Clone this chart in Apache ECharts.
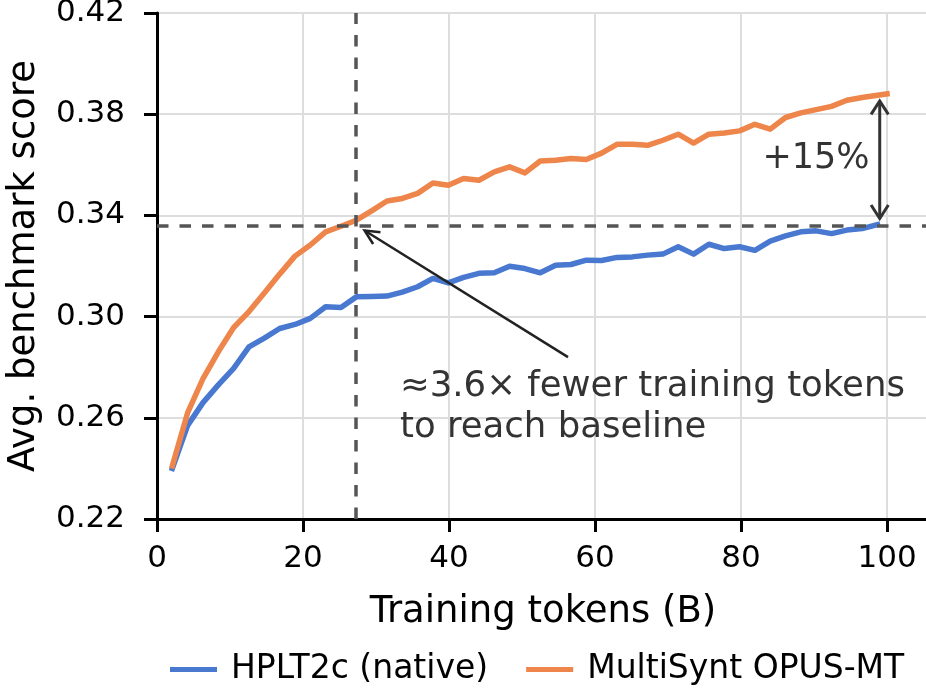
<!DOCTYPE html>
<html>
<head>
<meta charset="utf-8">
<title>Training tokens vs benchmark score</title>
<script src="https://cdn.jsdelivr.net/npm/echarts@6.0.0/dist/echarts.min.js"></script>
<style>
    html, body { margin: 0; padding: 0; background: #fff; }
    #chart { width: 926px; height: 693px; }
</style>
</head>
<body>
<div id="chart"></div>
<script>
// Checkpoints (billions of training tokens)
var tokens = [2.1, 4.2, 6.3, 8.4, 10.5, 12.6, 14.7, 16.8, 18.9, 21.0,
              23.1, 25.2, 27.3, 29.4, 31.5, 33.6, 35.7, 37.8, 39.9, 42.0,
              44.1, 46.2, 48.3, 50.4, 52.5, 54.6, 56.7, 58.8, 60.9, 63.0,
              65.1, 67.2, 69.3, 71.4, 73.5, 75.6, 77.7, 79.8, 81.9, 84.0,
              86.1, 88.2, 90.3, 92.4, 94.5, 96.6, 98.7, 100.0];

// HPLT2c (native) - one fewer checkpoint
var hpltScores = [0.240, 0.257, 0.266, 0.273, 0.2795, 0.288, 0.2915, 0.2953, 0.2969, 0.2993,
                  0.3039, 0.3036, 0.3078, 0.3079, 0.3081, 0.3097, 0.3118, 0.3151, 0.3133, 0.3155,
                  0.3171, 0.3173, 0.3199, 0.3190, 0.3173, 0.3203, 0.3206, 0.3223, 0.3222, 0.3234,
                  0.3236, 0.3243, 0.3247, 0.3276, 0.3247, 0.3286, 0.3269, 0.3276, 0.3262, 0.3298,
                  0.3319, 0.3335, 0.3339, 0.3328, 0.3342, 0.3348, 0.3364];

// MultiSynt OPUS-MT
var multiSyntScores = [0.241, 0.262, 0.2755, 0.2861, 0.2957, 0.302, 0.3093, 0.3168, 0.3239, 0.3283,
                       0.3335, 0.3357, 0.3381, 0.3418, 0.3457, 0.3467, 0.3487, 0.3528, 0.3519, 0.3546,
                       0.3539, 0.3572, 0.3592, 0.3568, 0.3615, 0.3618, 0.3625, 0.3621, 0.3646, 0.3681,
                       0.3681, 0.3677, 0.3697, 0.3721, 0.3686, 0.3721, 0.3726, 0.3734, 0.3760, 0.3741,
                       0.3787, 0.3805, 0.3818, 0.3831, 0.3855, 0.3866, 0.3875, 0.3880];

var seriesNames = ['HPLT2c (native)', 'MultiSynt OPUS-MT'];
var xTicks = [0, 20, 40, 60, 80, 100];
var yTicks = [0.22, 0.26, 0.30, 0.34, 0.38, 0.42];

// Annotation values
var baselineScore = 0.336;   // final HPLT2c score
var matchTokens = 27.2;      // where MultiSynt reaches the baseline

var FONT = 'DejaVu Sans';

function pairs(xs, ys) {
    var out = [];
    for (var i = 0; i < ys.length; i++) out.push([xs[i], ys[i]]);
    return out;
}

var chartEl = document.getElementById('chart');
var chart = echarts.init(chartEl, null, { renderer: 'canvas' });

chart.setOption({
    animation: false,
    color: ['#4878D0', '#EE854A'],
    textStyle: { fontFamily: FONT },
    grid: {
        left: 157, right: -3, top: 13, bottom: 174,
        containLabel: false,
        outerBoundsMode: 'none'
    },
    legend: {
        data: seriesNames,
        left: 165,
        top: 648,
        icon: 'rect',
        itemWidth: 47,
        itemHeight: 5,
        itemGap: 38,
        textStyle: { fontFamily: FONT, fontSize: 33, color: '#000', padding: [0, 0, 0, 9] }
    },
    xAxis: {
        type: 'value',
        min: xTicks[0],
        max: 105.75,
        interval: 20,
        name: 'Training tokens (B)',
        nameLocation: 'middle',
        nameGap: 75,
        nameTextStyle: { fontFamily: FONT, fontSize: 37, color: '#000' },
        axisLine: { show: true, onZero: false, lineStyle: { color: '#000', width: 3 } },
        axisTick: { show: true, length: 13, lineStyle: { color: '#000', width: 3 } },
        axisLabel: {
            margin: 24,
            fontSize: 31,
            color: '#000',
            fontFamily: FONT,
            formatter: function (v) { return xTicks.indexOf(v) >= 0 ? String(v) : ''; }
        },
        splitLine: { show: true, lineStyle: { color: '#dddddd', width: 2 } }
    },
    yAxis: {
        type: 'value',
        min: yTicks[0],
        max: yTicks[yTicks.length - 1],
        interval: 0.04,
        name: 'Avg. benchmark score',
        nameLocation: 'middle',
        nameGap: 114,
        nameTextStyle: { fontFamily: FONT, fontSize: 37, color: '#000' },
        axisLine: { show: true, lineStyle: { color: '#000', width: 3 } },
        axisTick: { show: true, length: 13, lineStyle: { color: '#000', width: 3 } },
        axisLabel: {
            margin: 32,
            fontSize: 31,
            color: '#000',
            fontFamily: FONT,
            formatter: function (v) { return v.toFixed(2); }
        },
        splitLine: { show: true, lineStyle: { color: '#dddddd', width: 2 } }
    },
    series: [
        {
            name: seriesNames[0],
            type: 'line',
            data: pairs(tokens, hpltScores),
            showSymbol: false,
            symbol: 'none',
            lineStyle: { width: 5.5, cap: 'square', join: 'round' },
            z: 3
        },
        {
            name: seriesNames[1],
            type: 'line',
            data: pairs(tokens, multiSyntScores),
            showSymbol: false,
            symbol: 'none',
            lineStyle: { width: 5.5, cap: 'square', join: 'round' },
            z: 4,
            markLine: {
                silent: true,
                symbol: 'none',
                precision: 4,
                label: { show: false },
                lineStyle: { color: '#555', width: 3.5, type: [11.5, 11] },
                data: [
                    { yAxis: baselineScore },
                    { xAxis: matchTokens }
                ]
            }
        }
    ]
});

//
// Annotations: arrows with open heads and texts
//

function px(x, y) {
    return chart.convertToPixel({ gridIndex: 0 }, [x, y]);
}

function headArms(tip, from, len, halfAngle) {
    var ang = Math.atan2(from[1] - tip[1], from[0] - tip[0]);
    var a1 = ang + halfAngle, a2 = ang - halfAngle;
    return [
        [tip[0] + len * Math.cos(a1), tip[1] + len * Math.sin(a1)],
        tip,
        [tip[0] + len * Math.cos(a2), tip[1] + len * Math.sin(a2)]
    ];
}

var graphics = [];

// Arrow from note to the crossing point
var noteTail = px(56.3, 0.284);
var noteHead = px(matchTokens, baselineScore);
noteHead = [noteHead[0] + 9, noteHead[1] + 5];
graphics.push({
    type: 'line', silent: true, z: 10,
    shape: { x1: noteTail[0], y1: noteTail[1], x2: noteHead[0], y2: noteHead[1] },
    style: { stroke: '#222', lineWidth: 2.5 }
});
graphics.push({
    type: 'polyline', silent: true, z: 10,
    shape: { points: headArms(noteHead, noteTail, 16, Math.PI / 7) },
    style: { stroke: '#222', lineWidth: 2.5, fill: null }
});

// Double arrow for the gap at the end
var gapX = 99.0;
var topPt = px(gapX, multiSyntScores[multiSyntScores.length - 1]);
var botPt = px(gapX, baselineScore);
topPt = [topPt[0], topPt[1] + 7];
botPt = [botPt[0], botPt[1] - 7];
graphics.push({
    type: 'line', silent: true, z: 10,
    shape: { x1: topPt[0], y1: topPt[1], x2: botPt[0], y2: botPt[1] },
    style: { stroke: '#333', lineWidth: 3 }
});
graphics.push({
    type: 'polyline', silent: true, z: 10,
    shape: { points: headArms(topPt, botPt, 16, Math.PI / 5.5) },
    style: { stroke: '#333', lineWidth: 3, fill: null }
});
graphics.push({
    type: 'polyline', silent: true, z: 10,
    shape: { points: headArms(botPt, topPt, 16, Math.PI / 5.5) },
    style: { stroke: '#333', lineWidth: 3, fill: null }
});

// Texts
graphics.push({
    type: 'text', silent: true, z: 10,
    style: { x: 816, y: 159, text: '+15%', font: '35px "DejaVu Sans"', fill: '#333', align: 'center', verticalAlign: 'middle' }
});
graphics.push({
    type: 'text', silent: true, z: 10,
    style: { x: 400, y: 387, text: '\u22483.6\u00d7 fewer training tokens', font: '35.5px "DejaVu Sans"', fill: '#333', align: 'left', verticalAlign: 'middle' }
});
graphics.push({
    type: 'text', silent: true, z: 10,
    style: { x: 400, y: 428, text: 'to reach baseline', font: '35.5px "DejaVu Sans"', fill: '#333', align: 'left', verticalAlign: 'middle' }
});

chart.setOption({ graphic: graphics });
</script>
</body>
</html>
